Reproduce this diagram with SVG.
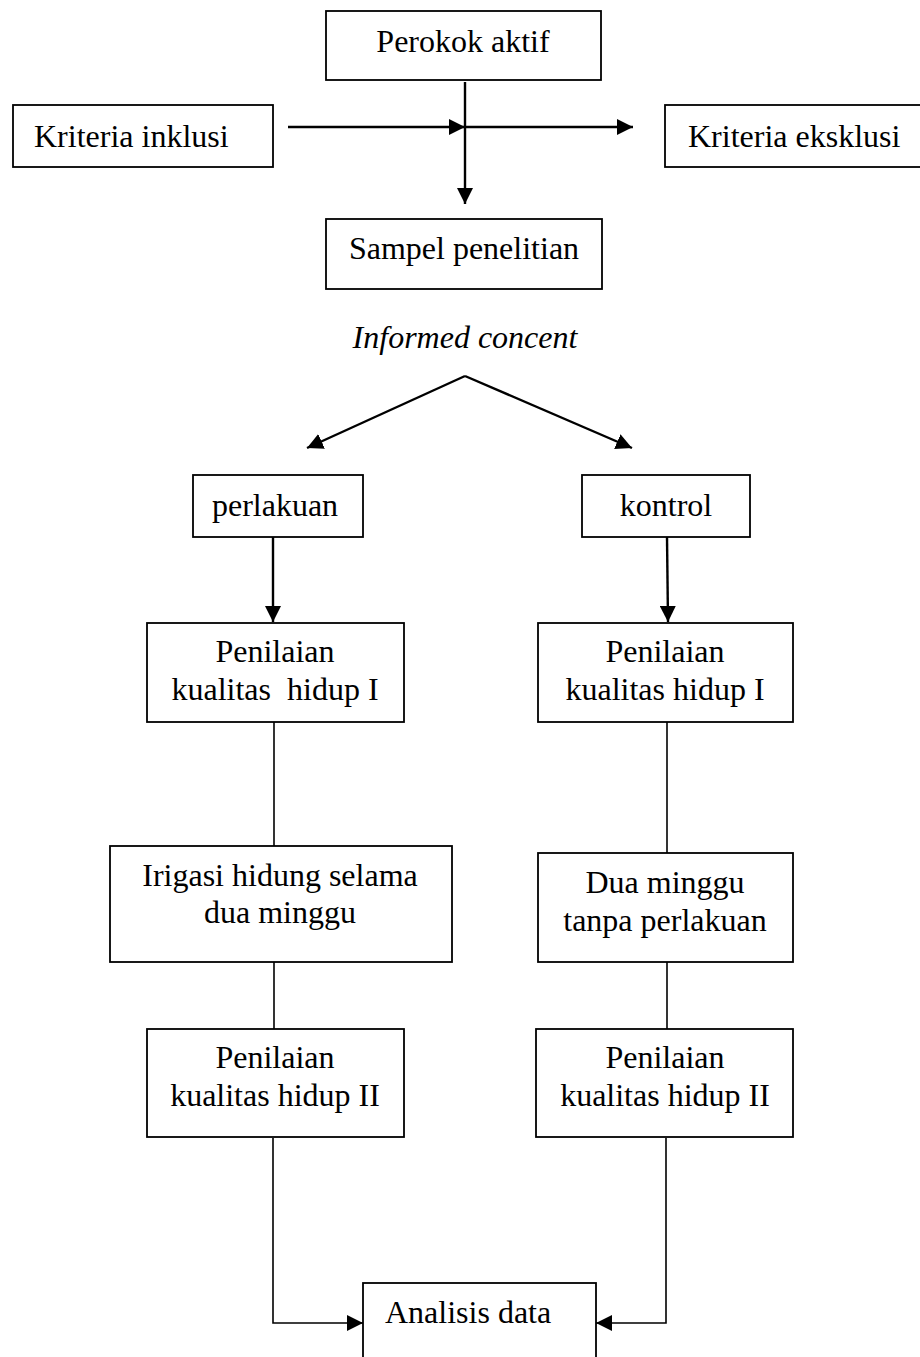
<svg xmlns="http://www.w3.org/2000/svg" width="920" height="1357" viewBox="0 0 920 1357">
<defs>
<style>
.box{fill:#fff;stroke:#000;stroke-width:1.8}
.t{font-family:"Liberation Serif","Times New Roman",serif;font-size:32px;fill:#000}
.m{text-anchor:middle}
.i{font-style:italic}
.c{fill:none;stroke:#000;stroke-width:2.4}
.c2{fill:none;stroke:#000;stroke-width:1.6}
</style>
<marker id="ah" viewBox="0 0 16 16" markerWidth="16" markerHeight="16" refX="16" refY="8" orient="auto" markerUnits="userSpaceOnUse">
<path d="M0,0 L16,8 L0,16 z" fill="#000"/>
</marker>
</defs>
<rect width="920" height="1357" fill="#fff"/>
<g id="connectors">
<line class="c" x1="465" y1="82" x2="465" y2="204" marker-end="url(#ah)"/>
<line class="c" x1="288" y1="127" x2="465" y2="127" marker-end="url(#ah)"/>
<line class="c" x1="465" y1="127" x2="633" y2="127" marker-end="url(#ah)"/>
<line class="c" x1="465" y1="376" x2="307" y2="448" marker-end="url(#ah)"/>
<line class="c" x1="465" y1="376" x2="632" y2="448" marker-end="url(#ah)"/>
<line class="c" x1="273" y1="537" x2="273" y2="622" marker-end="url(#ah)"/>
<line class="c" x1="667" y1="537" x2="668" y2="622" marker-end="url(#ah)"/>
<line class="c2" x1="274" y1="722" x2="274" y2="846"/>
<line class="c2" x1="667" y1="722" x2="667" y2="853"/>
<line class="c2" x1="274" y1="962" x2="274" y2="1029"/>
<line class="c2" x1="667" y1="962" x2="667" y2="1029"/>
<polyline class="c2" points="273,1138 273,1323 363,1323" marker-end="url(#ah)"/>
<polyline class="c2" points="666,1138 666,1323 596,1323" marker-end="url(#ah)"/>
</g>
<g id="perokok"><rect class="box" x="326" y="11" width="275" height="69"/><text class="t m" x="463" y="52">Perokok aktif</text></g>
<g id="inklusi"><rect class="box" x="13" y="105" width="260" height="62"/><text class="t" x="34" y="147">Kriteria inklusi</text></g>
<g id="eksklusi"><rect class="box" x="665" y="105" width="265" height="62"/><text class="t" x="688" y="147">Kriteria eksklusi</text></g>
<g id="sampel"><rect class="box" x="326" y="219" width="276" height="70"/><text class="t m" x="464" y="259">Sampel penelitian</text></g>
<g id="informed"><text class="t m i" x="465" y="348">Informed concent</text></g>
<g id="perlakuan"><rect class="box" x="193" y="475" width="170" height="62"/><text class="t m" x="275" y="516">perlakuan</text></g>
<g id="kontrol"><rect class="box" x="582" y="475" width="168" height="62"/><text class="t m" x="666" y="516">kontrol</text></g>
<g id="penilaian1a"><rect class="box" x="147" y="623" width="257" height="99"/><text class="t m" x="275" y="662">Penilaian</text><text class="t m" x="275" y="700" xml:space="preserve">kualitas  hidup I</text></g>
<g id="penilaian1b"><rect class="box" x="538" y="623" width="255" height="99"/><text class="t m" x="665" y="662">Penilaian</text><text class="t m" x="665" y="700">kualitas hidup I</text></g>
<g id="irigasi"><rect class="box" x="110" y="846" width="342" height="116"/><text class="t m" x="280" y="886">Irigasi hidung selama</text><text class="t m" x="280" y="923">dua minggu</text></g>
<g id="duaminggu"><rect class="box" x="538" y="853" width="255" height="109"/><text class="t m" x="665" y="893">Dua minggu</text><text class="t m" x="665" y="931">tanpa perlakuan</text></g>
<g id="penilaian2a"><rect class="box" x="147" y="1029" width="257" height="108"/><text class="t m" x="275" y="1068">Penilaian</text><text class="t m" x="275" y="1106">kualitas hidup II</text></g>
<g id="penilaian2b"><rect class="box" x="536" y="1029" width="257" height="108"/><text class="t m" x="665" y="1068">Penilaian</text><text class="t m" x="665" y="1106">kualitas hidup II</text></g>
<g id="analisis"><rect class="box" x="363" y="1283" width="233" height="90"/><text class="t" x="385" y="1323">Analisis data</text></g>
</svg>
